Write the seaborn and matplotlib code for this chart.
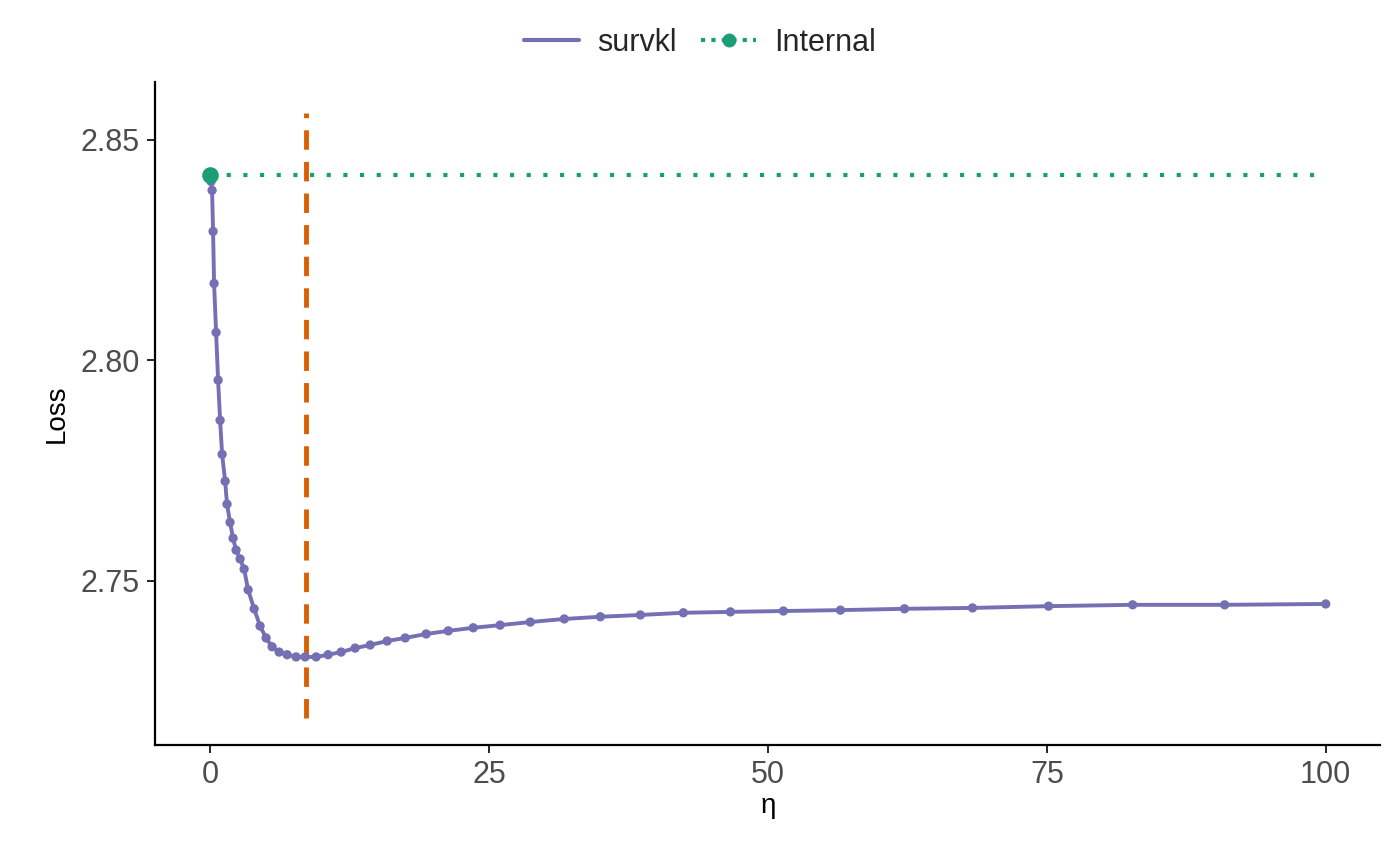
import matplotlib
matplotlib.use('Agg')
import matplotlib.pyplot as plt
import seaborn as sns
import pandas as pd
from matplotlib.lines import Line2D

# 数据
eta = [0.09, 0.18, 0.27, 0.36, 0.54, 0.72, 0.90, 1.08, 1.35, 1.52, 1.79, 2.06, 2.33,
       2.69, 3.05, 3.41, 3.95, 4.48, 5.02, 5.56, 6.19, 6.91, 7.71, 8.52, 9.51, 10.58,
       11.75, 13.0, 14.35, 15.87, 17.49, 19.37, 21.35, 23.59, 26.0, 28.7, 31.75, 34.98,
       38.57, 42.42, 46.64, 51.39, 56.5, 62.24, 68.34, 75.16, 82.69, 90.94, 100.0]
loss = [2.8405, 2.8385, 2.8292, 2.8174, 2.8063, 2.7955, 2.7864, 2.7787, 2.7726, 2.7674,
        2.7633, 2.7597, 2.7570, 2.7550, 2.7527, 2.7480, 2.7437, 2.7398, 2.7371, 2.7351,
        2.7339, 2.7333, 2.7328, 2.7328, 2.7328, 2.7333, 2.7339, 2.7348, 2.7355, 2.7364,
        2.7371, 2.7380, 2.7387, 2.7394, 2.7400, 2.7407, 2.7414, 2.7419, 2.7423, 2.7428,
        2.7430, 2.7432, 2.7434, 2.7437, 2.7439, 2.7443, 2.7446, 2.7446, 2.7448]
internal_loss = 2.842
best_eta = 8.6

purple = '#7570b3'
green = '#1b9e77'
orange = '#d95f02'

sns.set_theme(style='ticks')
plt.rcParams['font.family'] = ['Liberation Sans', 'DejaVu Sans']

df = pd.DataFrame({'eta': eta, 'loss': loss})
fig = plt.figure(figsize=(14, 8.65), dpi=100)
ax = fig.add_axes([0.111, 0.139, 0.875, 0.766])

sns.lineplot(data=df, x='eta', y='loss', color=purple, lw=2.8, ax=ax)
sns.scatterplot(data=df, x='eta', y='loss', color=purple, s=45, edgecolor='none', ax=ax, zorder=3)
ax.plot([0, 100], [internal_loss, internal_loss], color=green, lw=3, linestyle=(0, (1, 3)))
ax.scatter([0], [internal_loss], color=green, s=120, zorder=4)
ax.plot([best_eta, best_eta], [2.719, 2.856], color=orange, lw=3.5, linestyle=(0, (4, 2.5)))

ax.set_xlim(-4.9, 104.9)
ax.set_ylim(2.7129, 2.863)
ax.set_xticks([0, 25, 50, 75, 100])
ax.set_yticks([2.75, 2.80, 2.85])
ax.set_yticklabels(['2.75', '2.80', '2.85'])
ax.tick_params(labelsize=22, colors='black', labelcolor='#4d4d4d', length=6, width=1.2, pad=5)
for s in ['left', 'bottom']:
    ax.spines[s].set_linewidth(1.6)
    ax.spines[s].set_color('black')
sns.despine(ax=ax)
ax.set_xlabel('η', fontsize=20, color='black', labelpad=2)
ax.set_ylabel('Loss', fontsize=20, color='black', labelpad=8)

handles = [Line2D([], [], color=purple, lw=3),
           Line2D([], [], color=green, lw=3, linestyle=(0, (1, 1.5)), marker='o', markersize=9)]
fig.legend(handles, ['survkl', 'Internal'], loc='upper center', bbox_to_anchor=(0.5, 1.0),
           ncol=2, frameon=False, fontsize=22, handlelength=1.8, columnspacing=0.8, handletextpad=0.6)

fig.savefig('out.png', dpi=100)
